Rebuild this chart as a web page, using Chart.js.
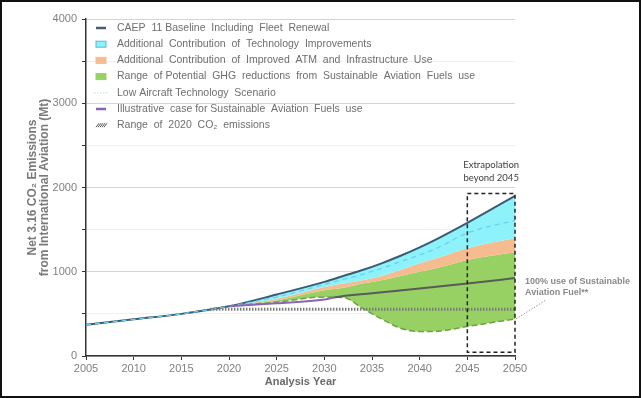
<!DOCTYPE html>
<html>
<head>
<meta charset="utf-8">
<script src="https://cdn.jsdelivr.net/npm/chart.js@4.4.0/dist/chart.umd.min.js"></script>
<style>
  body { margin: 0; background: #fff; }
  canvas { display: block; }
</style>
</head>
<body>
<canvas id="chart" width="641" height="398"></canvas>
<script>
// years shared by the stacked fill bands
const years = [2005, 2010, 2015, 2020, 2025, 2030, 2032, 2034, 2036, 2038, 2040, 2042, 2045, 2050];
const baseline    = [370, 435, 500, 590, 730, 880, 950, 1020, 1100, 1190, 1290, 1400, 1580, 1900];
const lowTech     = [370, 435, 500, 590, 700, 850, 910, 970, 1040, 1120, 1200, 1290, 1460, 1610];
const techBottom  = [370, 435, 500, 590, 680, 820, 860, 900, 950, 1020, 1100, 1170, 1280, 1400];
const atmBottom   = [370, 435, 500, 590, 660, 780, 810, 860, 900, 950, 1000, 1050, 1140, 1230];
const safBottom   = [370, 435, 500, 590, 640, 700, 695, 565, 440, 330, 290, 295, 350, 440];

// illustrative SAF case
const safYears  = [2020, 2025, 2030, 2031, 2035, 2040, 2045, 2050];
const safCase   = [590, 625, 670, 695, 745, 800, 860, 925];

// range of 2020 emissions
const rangeYears = [2018, 2050];
const rangeValue = 555;

const yTicks = [0, 1000, 2000, 3000, 4000];

const legendItems = [
  { label: "CAEP  11 Baseline  Including  Fleet  Renewal", kind: "line", color: "#4a5d78" },
  { label: "Additional  Contribution  of  Technology  Improvements", kind: "box", color: "#8ef2fb", edge: "#5bb8d8" },
  { label: "Additional  Contribution  of  Improved  ATM  and  Infrastructure  Use", kind: "box", color: "#f6bc90", edge: "#f6bc90" },
  { label: "Range  of Potential  GHG  reductions  from  Sustainable  Aviation  Fuels  use", kind: "box", color: "#98d163", edge: "#98d163" },
  { label: "Low Aircraft Technology  Scenario", kind: "dots", color: "#b8d8ee" },
  { label: "Illustrative  case for Sustainable  Aviation  Fuels  use", kind: "line", color: "#8a64b4" },
  { label: "Range  of  2020  CO\u2082  emissions", kind: "hatch", color: "#555" }
];

function pts(xs, ys) {
  return xs.map((x, i) => ({ x: x, y: ys[i] }));
}

// ✅ extra drawing: legend, extrapolation box, notes, frame
const extras = {
  id: "extras",
  afterDraw(chart) {
    const ctx = chart.ctx;
    const x = chart.scales.x, y = chart.scales.y;
    const area = chart.chartArea;
    ctx.save();

    // extrapolation box
    const bx0 = x.getPixelForValue(2045), bx1 = x.getPixelForValue(2050);
    const by0 = y.getPixelForValue(1930), by1 = y.getPixelForValue(45);
    ctx.setLineDash([4, 3]);
    ctx.strokeStyle = "#222";
    ctx.lineWidth = 1.5;
    ctx.strokeRect(bx0, by0, bx1 - bx0, by1 - by0);
    ctx.setLineDash([]);
    ctx.fillStyle = "#404040";
    ctx.font = "9.5px Lato";
    ctx.textAlign = "center";
    ctx.textBaseline = "middle";
    ctx.fillText("Extrapolation", (bx0 + bx1) / 2, by0 - 28);
    ctx.fillText("beyond 2045", (bx0 + bx1) / 2, by0 - 15);

    // note for 100% SAF
    ctx.textAlign = "left";
    ctx.fillStyle = "#8a8a8a";
    ctx.font = "bold 9px 'Liberation Sans'";
    ctx.fillText("100% use of Sustainable", area.right + 10, y.getPixelForValue(880));
    ctx.fillText("Aviation Fuel**", area.right + 10, y.getPixelForValue(755));
    ctx.setLineDash([1.5, 1.5]);
    ctx.strokeStyle = "#999";
    ctx.lineWidth = 1;
    ctx.beginPath();
    ctx.moveTo(bx1 + 1, y.getPixelForValue(440));
    ctx.lineTo(area.right + 31, y.getPixelForValue(665));
    ctx.stroke();
    ctx.setLineDash([]);

    // legend
    ctx.font = "10.5px 'Liberation Sans'";
    ctx.textAlign = "left";
    ctx.textBaseline = "middle";
    legendItems.forEach((it, i) => {
      const ly = 28 + i * 16.2;
      const lx = 97;
      if (it.kind === "line") {
        ctx.strokeStyle = it.color;
        ctx.lineWidth = 2.5;
        ctx.beginPath(); ctx.moveTo(lx - 1, ly); ctx.lineTo(lx + 9, ly); ctx.stroke();
      } else if (it.kind === "box") {
        ctx.fillStyle = it.color;
        ctx.fillRect(lx - 1, ly - 3, 10, 6);
        ctx.strokeStyle = it.edge;
        ctx.lineWidth = 1;
        ctx.strokeRect(lx - 1, ly - 3, 10, 6);
      } else if (it.kind === "dots") {
        ctx.strokeStyle = it.color;
        ctx.lineWidth = 1;
        ctx.setLineDash([1.5, 1.5]);
        ctx.beginPath(); ctx.moveTo(lx - 3, ly); ctx.lineTo(lx + 11, ly); ctx.stroke();
        ctx.setLineDash([]);
      } else if (it.kind === "hatch") {
        ctx.strokeStyle = it.color;
        ctx.lineWidth = 1;
        for (let k = 0; k < 5; k++) {
          ctx.beginPath();
          ctx.moveTo(lx - 1 + k * 2, ly + 2);
          ctx.lineTo(lx + 2 + k * 2, ly - 2);
          ctx.stroke();
        }
      }
      ctx.fillStyle = "#6e6e6e";
      ctx.fillText(it.label, 117, ly);
    });

    // frame
    ctx.strokeStyle = "#111";
    ctx.lineWidth = 2;
    ctx.strokeRect(1, 1, chart.width - 2, chart.height - 2);
    ctx.restore();
  }
};

const ctx = document.getElementById("chart").getContext("2d");
new Chart(ctx, {
  type: "line",
  data: {
    datasets: [
      {
        label: "Range of 2020 CO2 emissions",
        data: rangeYears.map(v => ({ x: v, y: rangeValue })),
        borderColor: "#7a7a7a", borderWidth: 3, borderDash: [1.5, 1.5],
        pointRadius: 0, fill: false
      },
      {
        label: "Illustrative case",
        data: pts(safYears, safCase),
        borderColor: "#5a5a5a", borderWidth: 2,
        segment: { borderColor: c => c.p1.parsed.x <= 2031 ? "#8a64b4" : "#5a5a5a" },
        pointRadius: 0, fill: false, cubicInterpolationMode: "monotone"
      },
      {
        label: "Low Aircraft Technology",
        data: pts(years, lowTech),
        borderColor: "#6fcfee", borderWidth: 1.3, borderDash: [5, 4],
        pointRadius: 0, fill: false, cubicInterpolationMode: "monotone"
      },
      {
        label: "Baseline",
        data: pts(years, baseline),
        borderColor: "#3d5a73", borderWidth: 2,
        backgroundColor: "#8ef2fb",
        pointRadius: 0, fill: 4, cubicInterpolationMode: "monotone"
      },
      {
        label: "Tech",
        data: pts(years, techBottom),
        borderWidth: 0, borderColor: "rgba(0,0,0,0)",
        backgroundColor: "#f6bc90",
        pointRadius: 0, fill: 5, cubicInterpolationMode: "monotone"
      },
      {
        label: "ATM",
        data: pts(years, atmBottom),
        borderWidth: 0, borderColor: "rgba(0,0,0,0)",
        backgroundColor: "#98d163",
        pointRadius: 0, fill: 6, cubicInterpolationMode: "monotone"
      },
      {
        label: "SAF range",
        data: pts(years, safBottom),
        borderColor: "#70a048", borderWidth: 1.5, borderDash: [6, 3],
        pointRadius: 0, fill: false, cubicInterpolationMode: "monotone"
      }
    ]
  },
  options: {
    responsive: false,
    animation: false,
    layout: { padding: { left: 0, right: 126, top: 19, bottom: 0 } },
    plugins: {
      legend: { display: false },
      tooltip: { enabled: false },
      filler: { drawTime: "beforeDatasetsDraw" }
    },
    scales: {
      x: {
        type: "linear", min: 2005, max: 2050,
        border: { color: "#333", width: 1.5 },
        grid: { drawOnChartArea: false, drawTicks: true, tickLength: 4, color: "#333" },
        ticks: {
          stepSize: 5, padding: 2, color: "#808080",
          font: { family: "Liberation Sans", size: 11 },
          callback: v => String(v)
        },
        title: {
          display: true, text: "Analysis Year", color: "#6a6a6a",
          font: { family: "Liberation Sans", size: 11, weight: "bold" },
          padding: { top: 2, bottom: 9 }
        },
        afterFit: s => { s.height = 42; }
      },
      y: {
        min: 0, max: 4000,
        border: { color: "#333", width: 1.5 },
        grid: {
          tickLength: 4,
          color: c => (c.tick.value % 1000 === 0 ? "#d4d4d4" : "#f0f0f0"),
          tickColor: "#333"
        },
        ticks: {
          stepSize: 500, padding: 5, color: "#808080",
          font: { family: "Liberation Sans", size: 11 },
          callback: v => (yTicks.includes(v) ? String(v) : "")
        },
        title: {
          display: true,
          text: ["Net 3.16 CO\u2082 Emissions", "from International Aviation (Mt)"],
          color: "#7a7a7a",
          font: { family: "Liberation Sans", size: 12, weight: "bold", lineHeight: 1 },
          padding: { top: 27, bottom: 0 }
        },
        afterFit: s => { s.width = 86; }
      }
    }
  },
  plugins: [extras]
});
</script>
</body>
</html>
